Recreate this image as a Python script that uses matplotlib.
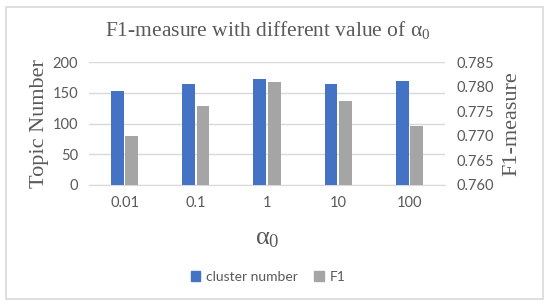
import numpy as np
import matplotlib.pyplot as plt
from matplotlib.patches import Rectangle, Patch

# data
alphas = ['0.01', '0.1', '1', '10', '100']
cluster_number = [153, 165, 172, 165, 169]
f1 = [0.770, 0.776, 0.781, 0.777, 0.772]

blue = '#4472C4'
grey = '#A5A5A5'
txt = '#595959'

plt.rcParams['mathtext.fontset'] = 'custom'
plt.rcParams['mathtext.rm'] = 'Liberation Serif'
plt.rcParams['mathtext.it'] = 'Liberation Serif'
plt.rcParams['mathtext.bf'] = 'Liberation Serif:bold'

fig = plt.figure(figsize=(5.48, 3.05), dpi=100)
fig.patches.append(Rectangle((6/548, 6/305), 537/548, 292/305, transform=fig.transFigure,
                             fill=False, edgecolor='#D9D9D9', linewidth=1.2))

ax = fig.add_axes([89/548, 1-185/305, 356/548, 123/305])
ax2 = ax.twinx()

x = np.arange(len(alphas))
w = 0.18
gap = 0.02
ax.bar(x - w/2 - gap/2, cluster_number, w, color=blue, zorder=3)
ax2.bar(x + w/2 + gap/2, np.array(f1) - 0.760, w, bottom=0.760, color=grey, zorder=3)

ax.set_xlim(-0.5, len(alphas) - 0.5)
ax.set_ylim(0, 200)
ax.set_yticks([0, 50, 100, 150, 200])
ax2.set_ylim(0.760, 0.785)
ax2.set_yticks([0.760, 0.765, 0.770, 0.775, 0.780, 0.785])
ax2.set_yticklabels(['%.3f' % v for v in ax2.get_yticks()])
ax.set_xticks(x)
ax.set_xticklabels(alphas)

ax.grid(axis='y', color='#D9D9D9', linewidth=1, zorder=0)
for a in (ax, ax2):
    for s in a.spines.values():
        s.set_visible(False)
    a.tick_params(length=0, labelsize=10.5, colors=txt, pad=8)
    for lab in a.get_xticklabels() + a.get_yticklabels():
        lab.set_family('Lato')
ax.spines['bottom'].set_visible(True)
ax.spines['bottom'].set_color('#D9D9D9')
ax.set_axisbelow(True)

ax.set_ylabel('Topic Number', family='Liberation Serif', fontsize=16, color=txt, labelpad=2)
ax2.set_ylabel('F1-measure', family='Liberation Serif', fontsize=16, color=txt,
               rotation=90, labelpad=6)
ax.set_xlabel(r'$\alpha_0$', fontsize=19, color=txt, labelpad=10)

fig.text(268/548, 1-30/305, r'F1-measure with different value of $\alpha_0$',
         family='Liberation Serif', fontsize=15.5, color=txt, ha='center', va='center')

handles = [Patch(color=blue, label='cluster number'), Patch(color=grey, label='F1')]
fig.legend(handles=handles, loc='center', bbox_to_anchor=(268/548, 1-277/305), ncol=2,
           frameon=False, prop={'family': 'Lato', 'size': 10}, handlelength=0.7,
           handleheight=0.7, columnspacing=1.2, handletextpad=0.4, labelcolor=txt)

fig.savefig('out.png', dpi=100)
